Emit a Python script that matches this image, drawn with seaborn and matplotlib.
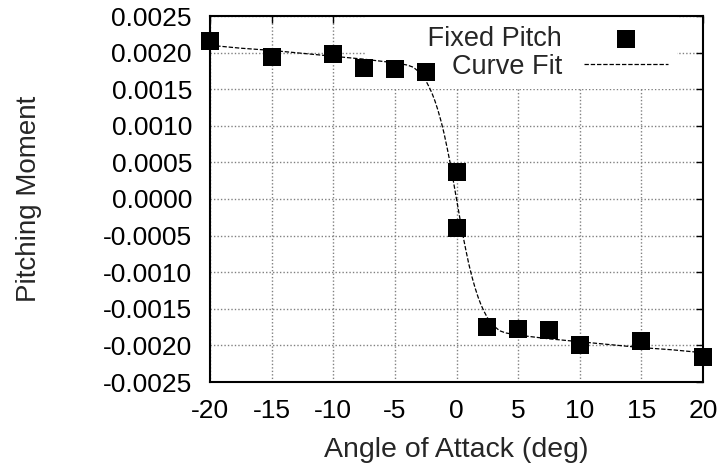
import matplotlib
matplotlib.use("Agg")
import matplotlib.pyplot as plt
import seaborn as sns
import pandas as pd

# Measured data (Fixed Pitch)
alpha = [-20, -15, -10, -7.5, -5, -2.5, 0, 0, 2.5, 5, 7.5, 10, 15, 20]
moment = [0.00216, 0.00194, 0.00198, 0.00179, 0.00177, 0.00173, 0.00037,
          -0.00040, -0.00175, -0.00178, -0.00179, -0.00199, -0.00194, -0.00216]

# Curve fit
fit_alpha = [-20, -17.5, -15, -12.5, -10, -7.5, -5, -4, -3.5, -3, -2.5, -2.25, -2,
             -1.75, -1.5, -1.25, -1, -0.75, -0.5, -0.25, 0,
             0.25, 0.5, 0.75, 1, 1.25, 1.5, 1.75, 2, 2.25, 2.5, 3, 3.5, 4, 5,
             7.5, 10, 12.5, 15, 17.5, 20]
fit_moment = [0.00210, 0.00206, 0.00203, 0.00199, 0.00195, 0.00191, 0.00186, 0.00183,
              0.00180, 0.00173, 0.00162, 0.00154, 0.00145, 0.00134, 0.00121, 0.00106,
              0.00089, 0.00069, 0.00048, 0.00024, 0.0,
              -0.00024, -0.00048, -0.00069, -0.00089, -0.00106, -0.00121, -0.00134,
              -0.00145, -0.00154, -0.00162, -0.00173, -0.00180, -0.00183, -0.00186,
              -0.00191, -0.00195, -0.00199, -0.00203, -0.00206, -0.00210]

x_ticks = [-20, -15, -10, -5, 0, 5, 10, 15, 20]
y_ticks = [-0.0025, -0.0020, -0.0015, -0.0010, -0.0005, 0.0, 0.0005, 0.0010,
           0.0015, 0.0020, 0.0025]
y_tick_labels = ["-0.0025", "-0.0020", "-0.0015", "-0.0010", "-0.0005", "0.0000",
                 "0.0005", "0.0010", "0.0015", "0.0020", "0.0025"]
x_tick_labels = ["-20", "-15", "-10", "-5", "0", "5", "10", "15", "20"]

sns.set_style("white")
plt.rcParams['font.family'] = ['Liberation Sans', 'DejaVu Sans']

df_pts = pd.DataFrame({"alpha": alpha, "moment": moment})
df_fit = pd.DataFrame({"alpha": fit_alpha, "moment": fit_moment})

fig = plt.figure(figsize=(7.19, 4.74), dpi=100)
ax = fig.add_axes([210 / 719, 1 - 382 / 474, 493 / 719, 366 / 474])

sns.scatterplot(data=df_pts, x="alpha", y="moment", marker="s", s=13.5 ** 2,
                color="black", edgecolor="black", linewidth=0, ax=ax,
                label="       Fixed Pitch", zorder=4, clip_on=False)
sns.lineplot(data=df_fit, x="alpha", y="moment", color="black", linewidth=0.9,
             linestyle=(0, (3.5, 1.5)), ax=ax, label="Curve Fit", zorder=3,
             estimator=None, sort=False)

ax.set_xlim(-20, 20)
ax.set_ylim(-0.0025, 0.0025)
ax.set_xticks(x_ticks)
ax.set_xticklabels(x_tick_labels)
ax.set_yticks(y_ticks)
ax.set_yticklabels(y_tick_labels)

ax.grid(True, color="#808080", linestyle=(0, (1, 1.5)), linewidth=1.0, zorder=0)
ax.set_axisbelow(True)
for sp in ax.spines.values():
    sp.set_visible(True)
    sp.set_color("black")
    sp.set_linewidth(1.5)

ax.tick_params(axis="both", which="both", direction="in", length=5, width=1,
               top=True, right=True, labelsize=19, colors="black")
ax.tick_params(axis="y", pad=13)
ax.tick_params(axis="x", pad=12)

ax.set_xlabel("Angle of Attack (deg)", fontsize=20.5)
ax.set_ylabel("Pitching Moment", fontsize=20)
ax.xaxis.set_label_coords(0.5, -0.15)
ax.yaxis.set_label_coords(-0.34, 0.5)

leg = ax.legend(loc="upper right", bbox_to_anchor=((677 - 210) / 493, 1 - 1 / 366),
                borderaxespad=0, markerfirst=False, frameon=True, fontsize=19.5,
                handlelength=3.1, handletextpad=0.8, labelspacing=0.05,
                borderpad=0.35, fancybox=False)
leg.get_frame().set_facecolor("white")
leg.get_frame().set_edgecolor("none")
leg.get_frame().set_alpha(1)
leg.set_zorder(2)

fig.savefig("out.png", dpi=100)
